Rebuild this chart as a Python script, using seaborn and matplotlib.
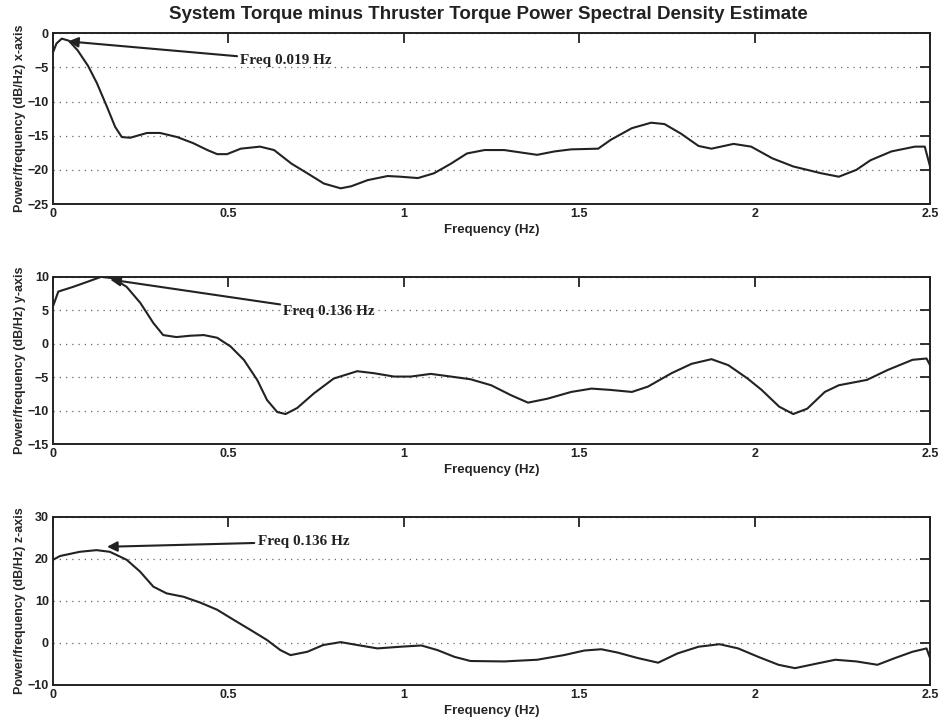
import pandas as pd
import matplotlib.pyplot as plt
import seaborn as sns

# PSD curves (x in Hz, y in dB/Hz)
freq_x = [0.0, 0.01, 0.025, 0.045, 0.07, 0.1, 0.125, 0.154, 0.177, 0.196, 0.22, 0.268, 0.305,
          0.354, 0.4, 0.44, 0.468, 0.496, 0.535, 0.59, 0.63, 0.68, 0.725, 0.772, 0.82, 0.85,
          0.897, 0.954, 0.99, 1.04, 1.086, 1.134, 1.18, 1.23, 1.286, 1.38, 1.43, 1.477, 1.554,
          1.59, 1.65, 1.705, 1.743, 1.79, 1.84, 1.877, 1.94, 1.99, 2.05, 2.11, 2.19, 2.24,
          2.29, 2.33, 2.39, 2.457, 2.485, 2.5]
psd_x = [-2.8, -1.5, -0.8, -1.1, -2.5, -4.8, -7.3, -10.8, -13.7, -15.2, -15.3, -14.6, -14.6,
         -15.2, -16.1, -17.1, -17.7, -17.7, -16.9, -16.6, -17.1, -19.1, -20.5, -22.0, -22.7,
         -22.4, -21.5, -20.9, -21.0, -21.2, -20.5, -19.1, -17.6, -17.1, -17.1, -17.8, -17.3,
         -17.0, -16.9, -15.6, -13.9, -13.1, -13.3, -14.7, -16.5, -16.9, -16.2, -16.6, -18.3,
         -19.5, -20.5, -21.0, -20.0, -18.6, -17.3, -16.6, -16.6, -19.5]

freq_y = [0.0, 0.015, 0.057, 0.1, 0.137, 0.171, 0.21, 0.249, 0.286, 0.314, 0.352, 0.39, 0.43,
          0.468, 0.506, 0.544, 0.582, 0.61, 0.639, 0.663, 0.696, 0.744, 0.8, 0.867, 0.915,
          0.972, 1.02, 1.077, 1.134, 1.19, 1.249, 1.306, 1.354, 1.41, 1.477, 1.535, 1.59,
          1.65, 1.696, 1.763, 1.82, 1.877, 1.925, 1.98, 2.02, 2.07, 2.11, 2.15, 2.2, 2.24,
          2.32, 2.38, 2.45, 2.49, 2.5]
psd_y = [5.6, 7.8, 8.5, 9.3, 10.0, 9.8, 8.5, 6.1, 3.1, 1.3, 1.0, 1.2, 1.3, 0.9, -0.4, -2.4,
         -5.4, -8.4, -10.2, -10.5, -9.6, -7.4, -5.2, -4.1, -4.4, -4.9, -4.9, -4.5, -4.9, -5.3,
         -6.2, -7.7, -8.8, -8.2, -7.2, -6.7, -6.9, -7.2, -6.4, -4.4, -3.0, -2.3, -3.2, -5.2,
         -6.9, -9.4, -10.5, -9.7, -7.2, -6.2, -5.4, -3.9, -2.4, -2.2, -3.2]

freq_z = [0.0, 0.02, 0.076, 0.124, 0.162, 0.21, 0.248, 0.286, 0.324, 0.372, 0.42, 0.468,
          0.515, 0.563, 0.61, 0.648, 0.677, 0.725, 0.77, 0.82, 0.868, 0.925, 0.99, 1.05,
          1.096, 1.144, 1.19, 1.286, 1.38, 1.456, 1.515, 1.563, 1.61, 1.667, 1.725, 1.78,
          1.84, 1.9, 1.953, 2.01, 2.068, 2.115, 2.172, 2.23, 2.29, 2.35, 2.4, 2.45, 2.49, 2.5]
psd_z = [19.8, 20.7, 21.7, 22.1, 21.7, 19.8, 17.0, 13.4, 11.8, 11.0, 9.6, 7.9, 5.5, 3.1, 0.7,
         -1.7, -2.9, -2.1, -0.5, 0.2, -0.5, -1.3, -0.9, -0.6, -1.7, -3.3, -4.3, -4.4, -4.0,
         -2.9, -1.8, -1.5, -2.3, -3.6, -4.7, -2.5, -0.9, -0.3, -1.3, -3.3, -5.2, -6.0, -5.0,
         -4.0, -4.4, -5.2, -3.6, -2.1, -1.3, -3.6]

axis_names = ["x-axis", "y-axis", "z-axis"]
y_limits = [(-25, 0), (-15, 10), (-10, 30)]
y_ticks = [[-25, -20, -15, -10, -5, 0], [-15, -10, -5, 0, 5, 10], [-10, 0, 10, 20, 30]]
peak_labels = ["Freq 0.019 Hz", "Freq 0.136 Hz", "Freq 0.136 Hz"]
arrow_tips = [(0.043, -1.2), (0.163, 9.6), (0.154, 22.9)]
label_spots = [(0.534, -4.0), (0.657, 4.8), (0.583, 24.1)]
x_ticks = [0, 0.5, 1, 1.5, 2, 2.5]
x_tick_labels = ["0", "0.5", "1", "1.5", "2", "2.5"]

sns.set_style("white")
plt.rcParams['font.family'] = ['Liberation Sans', 'DejaVu Sans']

fig = plt.figure(figsize=(9.4, 7.21), dpi=100)
boxes = [[0.0564, 0.717, 0.933, 0.237],
         [0.0564, 0.384, 0.933, 0.232],
         [0.0564, 0.050, 0.933, 0.233]]

curves = [(freq_x, psd_x), (freq_y, psd_y), (freq_z, psd_z)]

for i, (f, p) in enumerate(curves):
    ax = fig.add_axes(boxes[i])
    df = pd.DataFrame({"Frequency": f, "PSD": p})
    sns.lineplot(ax=ax, data=df, x="Frequency", y="PSD", sort=False,
                 color="#222222", linewidth=1.5, estimator=None)
    ax.set_xlim(0, 2.5)
    ax.set_ylim(*y_limits[i])
    ax.set_yticks(y_ticks[i])
    ax.set_xticks(x_ticks)
    ax.set_xticklabels(x_tick_labels)
    ax.yaxis.grid(True, linestyle=(0, (1, 4)), color="#666666", linewidth=0.9)
    ax.xaxis.grid(False)
    ax.tick_params(direction="in", top=True, right=True, length=7, width=1.3,
                   labelsize=9, colors="#222222", pad=3)
    for lbl in ax.get_xticklabels() + ax.get_yticklabels():
        lbl.set_fontweight("bold")
    for s in ax.spines.values():
        s.set_color("#222222")
        s.set_linewidth(1.4)
    ax.set_xlabel("Frequency (Hz)", fontsize=9.5, fontweight="bold", labelpad=3)
    ax.set_ylabel(f"Power/frequency (dB/Hz) {axis_names[i]}", fontsize=9,
                  fontweight="bold", labelpad=1)
    ax.annotate(peak_labels[i], xy=arrow_tips[i], xytext=label_spots[i],
                fontsize=11, fontweight="bold", family=["Liberation Serif", "DejaVu Serif"],
                va="center", ha="left", color="#222222",
                arrowprops=dict(arrowstyle="-|>", color="#222222", lw=1.5,
                                mutation_scale=15, shrinkA=0, shrinkB=0))

fig.suptitle("System Torque minus Thruster Torque Power Spectral Density Estimate",
             fontsize=13.5, fontweight="bold", x=0.52, y=0.992, color="#222222")

plt.savefig("out.png", dpi=100)
plt.close()
